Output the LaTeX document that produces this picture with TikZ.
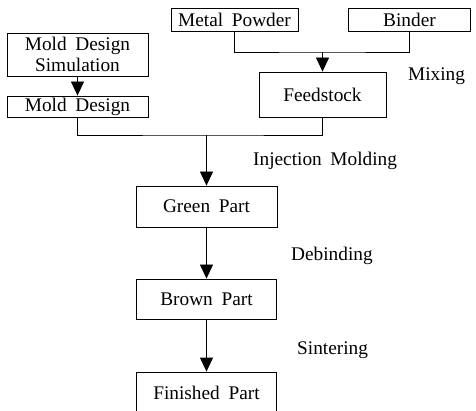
\documentclass[tikz,border=0pt]{standalone}
\usepackage{fontspec}
\setmainfont{Liberation Serif}
\usetikzlibrary{arrows.meta}
\newcommand\myfnt{\fontsize{19.3}{21}\selectfont\spaceskip0.45em plus 0.1em\relax}
\begin{document}
\begin{tikzpicture}[x=1pt,y=-1pt,
  box/.style={draw,line width=0.8pt,inner sep=0pt,align=center,font=\myfnt},
  lbl/.style={inner sep=0pt,anchor=base west,font=\myfnt},
  ln/.style={line width=0.8pt},
  arr/.style={line width=0.8pt,-{Triangle[width=13pt,length=14pt]}}]
\useasboundingbox (0,0) rectangle (476,411);
\clip (0,0) rectangle (476,411);
\node[box,minimum width=127pt,minimum height=23pt] (mp) at (234.5,19.5) {Metal Powder};
\node[box,minimum width=122pt,minimum height=23pt] (bd) at (409.5,19.5) {Binder};
\node[box,minimum width=127pt,minimum height=45pt] (fs) at (322.5,94.5) {Feedstock};
\node[box,minimum width=141pt,minimum height=43pt] (mds) at (77.5,54.5) {Mold Design\\Simulation};
\node[box,minimum width=141pt,minimum height=21pt] (md) at (77.5,106.5) {Mold Design};
\node[box,minimum width=141pt,minimum height=41pt] (gp) at (206.5,206.5) {Green Part};
\node[box,minimum width=140pt,minimum height=40pt] (bp) at (206.5,299) {Brown Part};
\node[box,minimum width=140pt,minimum height=41pt] (fp) at (206.5,392.5) {Finished Part};
\coordinate (j1) at (322.5,52);
\coordinate (j2) at (206.5,135);
\draw[ln] (mp.south) |- (j1) -| (bd.south);
\draw[arr] (j1) -- (fs.north);
\draw[arr] (mds.south) -- (md.north);
\draw[ln] (md.south) |- (j2) -| (fs.south);
\draw[arr] (j2) -- (gp.north);
\draw[arr] (gp.south) -- (bp.north);
\draw[arr] (bp.south) -- (fp.north);
\node[lbl] (mix) at (408,81) {Mixing};
\node[lbl] (inj) at (253,166) {Injection Molding};
\node[lbl] (deb) at (291,261) {Debinding};
\node[lbl] (sin) at (297,354) {Sintering};
\end{tikzpicture}
\end{document}
